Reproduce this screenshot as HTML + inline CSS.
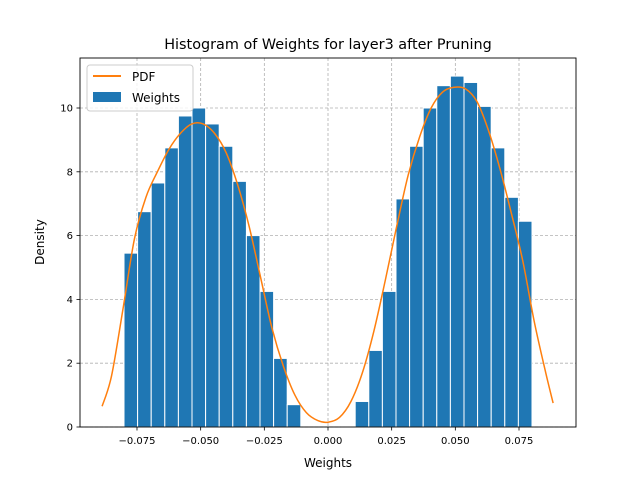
<!DOCTYPE html>
<html><head><meta charset="utf-8"><style>
body{margin:0;background:#fff;}
svg{display:block;font-family:"DejaVu Sans","Liberation Sans",sans-serif;}
</style></head><body>
<svg id="chart" width="640" height="480" viewBox="0 0 640 480">
<rect width="640" height="480" fill="#fff"/>
<text x="328" y="49" text-anchor="middle" font-size="14.4">Histogram of Weights for layer3 after Pruning</text>
<g id="grid"></g>
<g id="bars"></g>
<g id="pdf"></g>
<rect x="80" y="58" width="496" height="369" fill="none" stroke="#000" stroke-width="0.9"/>
<g id="ticks"></g>
<text x="328" y="467" text-anchor="middle" font-size="12">Weights</text>
<text transform="translate(44,242) rotate(-90)" text-anchor="middle" font-size="12">Density</text>
<g>
<rect x="87" y="65" width="106" height="46" rx="3" fill="#fff" fill-opacity="0.8" stroke="#ccc"/>
<line x1="93" y1="76" x2="121" y2="76" stroke="#ff7f0e" stroke-width="2"/>
<text x="132" y="81" font-size="12">PDF</text>
<rect x="93" y="92" width="28" height="10" fill="#1f77b4"/>
<text x="132" y="102" font-size="12">Weights</text>
</g>
</svg>
<script>
const binMin = -0.0801, binMax = 0.0801;
const density = [5.45,6.75,7.65,8.75,9.75,10.0,9.5,8.8,7.7,6.0,4.25,2.15,0.7,0,0,0,0.03,0.8,2.4,4.25,7.15,8.8,10.0,10.7,11.0,10.8,10.05,8.75,7.2,6.45];
const pdfX = [-0.0887,-0.085,-0.0805,-0.076,-0.0715,-0.067,-0.0625,-0.058,-0.0535,-0.049,-0.0445,-0.040,-0.0355,-0.031,-0.0265,-0.022,-0.0175,-0.013,-0.0085,-0.004,0,0.0045,0.009,0.0135,0.018,0.0225,0.027,0.0315,0.036,0.0405,0.045,0.0495,0.054,0.0585,0.063,0.0675,0.072,0.0765,0.081,0.0855,0.0884];
const pdfY = [0.65,1.6,3.7,5.9,7.2,8.0,8.7,9.2,9.5,9.5,9.2,8.6,7.6,6.3,4.7,3.1,1.9,1.0,0.45,0.2,0.15,0.3,0.8,1.7,3.0,4.6,6.3,7.9,9.1,10.0,10.5,10.65,10.6,10.2,9.3,8.1,6.7,5.2,3.3,1.7,0.75];
const xTicks = [-0.075,-0.05,-0.025,0,0.025,0.05,0.075];
const xTickLabels = ["−0.075","−0.050","−0.025","0.000","0.025","0.050","0.075"];
const yTicks = [0,2,4,6,8,10];
const yTickLabels = ["0","2","4","6","8","10"];
const NS="http://www.w3.org/2000/svg";
const xs = v => 328 + v*2546.7;
const ys = v => 427 - v*31.9;
function mk(tag, attrs, parent){const e=document.createElementNS(NS,tag);for(const k in attrs)e.setAttribute(k,attrs[k]);parent.appendChild(e);return e;}
const grid=document.getElementById('grid'), bars=document.getElementById('bars'), pdf=document.getElementById('pdf'), ticks=document.getElementById('ticks');
xTicks.forEach((t,i)=>{
  const X=xs(t);
  const g=mk('line',{x1:X,x2:X,y1:58,y2:427,stroke:'#b0b0b0','stroke-dasharray':'3,2','stroke-width':0.8},grid);
  
  
  mk('line',{x1:X,x2:X,y1:427,y2:430.5,stroke:'#000','stroke-width':0.8},ticks);
  const l=mk('text',{x:X,y:444,'text-anchor':'middle','font-size':10},ticks);
  l.textContent=xTickLabels[i];
  
  
});
yTicks.forEach((t,i)=>{
  const Y=ys(t);
  const g=mk('line',{x1:80,x2:576,y1:Y,y2:Y,stroke:'#b0b0b0','stroke-dasharray':'3,2','stroke-width':0.8},grid);
  
  
  mk('line',{x1:76.5,x2:80,y1:Y,y2:Y,stroke:'#000','stroke-width':0.8},ticks);
  const l=mk('text',{x:73,y:Y+3.5,'text-anchor':'end','font-size':10},ticks);
  l.textContent=yTickLabels[i];
  
  
});
const bw=(binMax-binMin)/density.length;
density.forEach((d,i)=>{
  const x0=xs(binMin+i*bw), x1=xs(binMin+(i+1)*bw);
  const r=mk('rect',{x:x0,y:ys(d),width:x1-x0,height:ys(0)-ys(d),fill:'#1f77b4',stroke:'#fff','stroke-width':1},bars);
  
  
});
const P=pdfX.map((x,i)=>[xs(x),ys(pdfY[i])]);
let d='M'+P[0][0]+','+P[0][1];
for(let i=0;i<P.length-1;i++){
  const p0=P[Math.max(0,i-1)],p1=P[i],p2=P[i+1],p3=P[Math.min(P.length-1,i+2)];
  const c1=[p1[0]+(p2[0]-p0[0])/6,p1[1]+(p2[1]-p0[1])/6];
  const c2=[p2[0]-(p3[0]-p1[0])/6,p2[1]-(p3[1]-p1[1])/6];
  d+=' C'+c1[0]+','+c1[1]+' '+c2[0]+','+c2[1]+' '+p2[0]+','+p2[1];
}
const p=mk('path',{d:d,fill:'none',stroke:'#ff7f0e','stroke-width':1.5},pdf);


</script>
</body></html>
